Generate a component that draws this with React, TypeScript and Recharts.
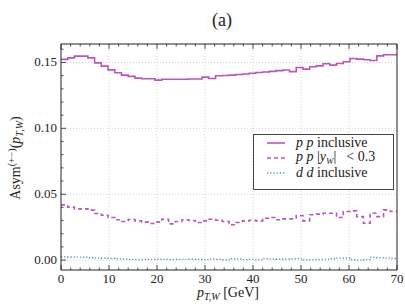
import React from 'react'
import { LineChart, Line, XAxis, YAxis, ReferenceLine, Legend } from 'recharts'

// bin edges in p_T,W [GeV] (50 bins)
const binEdges = [
  0, 1.4, 2.8, 4.2, 5.6, 7, 8.4, 9.8, 11.2, 12.6, 14, 15.4, 16.8, 18.2, 19.6, 21, 22.4,
  23.8, 25.2, 26.6, 28, 29.4, 30.8, 32.2, 33.6, 35, 36.4, 37.8, 39.2, 40.6, 42, 43.4,
  44.8, 46.2, 47.6, 49, 50.4, 51.8, 53.2, 54.6, 56, 57.4, 58.8, 60.2, 61.6, 63, 64.4,
  65.8, 67.2, 68.6, 70,
]

const ppInclusive = [
  0.1523, 0.1535, 0.1548, 0.1548, 0.1535, 0.1497, 0.1472, 0.1444, 0.1422, 0.1404,
  0.1394, 0.1381, 0.1376, 0.1376, 0.1366, 0.1373, 0.1373, 0.1372, 0.1373, 0.1374,
  0.1374, 0.1389, 0.1378, 0.1399, 0.1401, 0.1404, 0.1408, 0.1412, 0.1418, 0.1424,
  0.1428, 0.1432, 0.1438, 0.1443, 0.143, 0.1462, 0.1449, 0.1467, 0.1474, 0.149,
  0.148, 0.1492, 0.1505, 0.153, 0.1525, 0.152, 0.1515, 0.155, 0.1558, 0.1558,
]

const ppCentral = [
  0.0419, 0.0402, 0.0389, 0.0389, 0.0379, 0.0354, 0.0341, 0.0323, 0.0306, 0.0293,
  0.0308, 0.0298, 0.0288, 0.0278, 0.0288, 0.031, 0.0275, 0.0293, 0.0306, 0.0301,
  0.0285, 0.0298, 0.031, 0.0303, 0.0293, 0.0268, 0.0285, 0.0298, 0.0303, 0.0298,
  0.0318, 0.0323, 0.0306, 0.0313, 0.0313, 0.0338, 0.0298, 0.0344, 0.0349, 0.0356,
  0.0356, 0.0323, 0.0369, 0.0374, 0.033, 0.028, 0.0356, 0.033, 0.0381, 0.0369,
]

const ddInclusive = [
  0.0025, 0.0024, 0.0023, 0.0022, 0.0018, 0.0015, 0.0014, 0.0012, 0.001, 0.0008,
  0.0006, 0.0005, 0.0005, 0.0006, 0.0007, 0.0006, 0.0004, 0.0005, 0.0006, 0.0007,
  0.0005, 0.0004, 0.0008, 0.0006, 0.0003, 0.001, 0.0008, 0.0004, 0.0006, 0.0002,
  0.001, 0.0008, 0.0007, 0.0008, 0.001, 0.0011, 0.0002, 0.0004, 0.0005, 0.0006,
  0.001, 0.0015, 0.0014, 0.0003, 0.0, 0.0004, 0.002, 0.0018, 0.0015, 0.0012,
]

const xTicks = [0, 2, 4, 6, 8, 10, 12, 14, 16, 18, 20, 22, 24, 26, 28, 30, 32, 34, 36, 38, 40,
  42, 44, 46, 48, 50, 52, 54, 56, 58, 60, 62, 64, 66, 68, 70]
const xMajor = [0, 10, 20, 30, 40, 50, 60, 70]
const yTicks = [0, 0.01, 0.02, 0.03, 0.04, 0.05, 0.06, 0.07, 0.08, 0.09, 0.1, 0.11, 0.12,
  0.13, 0.14, 0.15, 0.16]
const yMajor = [0, 0.05, 0.1, 0.15]

const MAGENTA = '#bb55bb'
const BLUE = '#5b8fc9'
const AXIS = '#222'
const FONT = "'Liberation Serif', 'Times New Roman', Times, serif"

// stepAfter needs a closing point at the last edge
const data = binEdges.map((x, i) => {
  const k = Math.min(i, ppInclusive.length - 1)
  return { x, pp: ppInclusive[k], ppCut: ppCentral[k], dd: ddInclusive[k] }
})

const isMajorY = (v: number) => Math.round(v * 100) % 5 === 0

const BottomTick = (props: any) => {
  const { x, y, payload } = props
  const major = payload.value % 10 === 0
  return (
    <g>
      <line x1={x} x2={x} y1={y} y2={y - (major ? 5 : 2.5)} stroke={AXIS} strokeWidth={0.8} />
      {major && (
        <text x={x} y={y + 13} textAnchor="middle" style={{ fontFamily: FONT }} fontSize={13} fill="#222">
          {payload.value}
        </text>
      )}
    </g>
  )
}

const TopTick = (props: any) => {
  const { x, y, payload } = props
  const major = payload.value % 10 === 0
  return <line x1={x} x2={x} y1={y} y2={y + (major ? 5 : 2.5)} stroke={AXIS} strokeWidth={0.8} />
}

const LeftTick = (props: any) => {
  const { x, y, payload } = props
  const major = isMajorY(payload.value)
  return (
    <g>
      <line x1={x} x2={x + (major ? 5 : 2.5)} y1={y} y2={y} stroke={AXIS} strokeWidth={0.8} />
      {major && (
        <text x={x - 4} y={y + 4} textAnchor="end" style={{ fontFamily: FONT }} fontSize={13} fill="#222">
          {payload.value.toFixed(2)}
        </text>
      )}
    </g>
  )
}

const RightTick = (props: any) => {
  const { x, y, payload } = props
  const major = isMajorY(payload.value)
  return <line x1={x} x2={x - (major ? 5 : 2.5)} y1={y} y2={y} stroke={AXIS} strokeWidth={0.8} />
}

const legendItems = [
  { key: 'pp', color: MAGENTA, dash: undefined as string | undefined },
  { key: 'ppCut', color: MAGENTA, dash: '4 3' },
  { key: 'dd', color: BLUE, dash: '1.2 2' },
]

const LegendLabel = ({ k }: { k: string }) => {
  if (k === 'pp') return <span><i>p p</i> inclusive</span>
  if (k === 'ppCut')
    return (
      <span>
        <i>p p</i> |<i>y</i>
        <i style={{ fontSize: 9, position: 'relative', top: 3 }}>W</i>|
        <span style={{ marginLeft: 10 }}>&lt; 0.3</span>
      </span>
    )
  return <span><i>d d</i> inclusive</span>
}

const LegendBox = () => (
  <div
    style={{
      width: 141,
      height: 56,
      boxSizing: 'border-box',
      border: '1.3px solid #444',
      background: '#fff',
      padding: '0px 0 0 12px',
      fontFamily: FONT,
      fontSize: 14,
      color: '#222',
    }}
  >
    {legendItems.map(it => (
      <div key={it.key} style={{ height: 15, display: 'flex', alignItems: 'center', lineHeight: '15px', whiteSpace: 'nowrap' }}>
        <svg width={24} height={10} style={{ marginRight: 6, flexShrink: 0 }}>
          <line x1={1} x2={19} y1={5} y2={5} stroke={it.color} strokeWidth={1.6} strokeDasharray={it.dash} />
        </svg>
        <LegendLabel k={it.key} />
      </div>
    ))}
  </div>
)

export default function App() {
  return (
    <div style={{ position: 'absolute', left: 0, top: 0, width: 405, height: 304, background: '#fff' }}>
      <LineChart width={405} height={304} data={data} margin={{ top: 40, right: 0, bottom: 0, left: 0 }}>
        <XAxis
          xAxisId="b"
          dataKey="x"
          type="number"
          domain={[0, 70]}
          ticks={xTicks}
          interval={0}
          orientation="bottom"
          height={34}
          tickSize={0}
          tickMargin={0}
          tick={<BottomTick />}
          axisLine={{ stroke: AXIS, strokeWidth: 1 }}
        />
        <XAxis
          xAxisId="t"
          dataKey="x"
          type="number"
          domain={[0, 70]}
          ticks={xTicks}
          interval={0}
          orientation="top"
          height={4}
          tickSize={0}
          tickMargin={0}
          tick={<TopTick />}
          axisLine={{ stroke: AXIS, strokeWidth: 1 }}
        />
        <YAxis
          yAxisId="l"
          type="number"
          domain={[-0.0075, 0.164]}
          ticks={yTicks}
          interval={0}
          orientation="left"
          width={61}
          tickSize={0}
          tickMargin={0}
          tick={<LeftTick />}
          axisLine={{ stroke: AXIS, strokeWidth: 1 }}
        />
        <YAxis
          yAxisId="r"
          type="number"
          domain={[-0.0075, 0.164]}
          ticks={yTicks}
          interval={0}
          orientation="right"
          width={8}
          tickSize={0}
          tickMargin={0}
          tick={<RightTick />}
          axisLine={{ stroke: AXIS, strokeWidth: 1 }}
        />
        {xMajor.slice(1, -1).map(v => (
          <ReferenceLine key={`gx${v}`} x={v} xAxisId="b" yAxisId="l" stroke="#d0d0d0" strokeDasharray="1 2" />
        ))}
        {yMajor.map(v => (
          <ReferenceLine key={`gy${v}`} y={v} xAxisId="b" yAxisId="l" stroke="#d0d0d0" strokeDasharray="1 2" />
        ))}
        <Line
          xAxisId="b"
          yAxisId="l"
          type="stepAfter"
          dataKey="pp"
          stroke={MAGENTA}
          strokeWidth={1.6}
          dot={false}
          isAnimationActive={false}
        />
        <Line
          xAxisId="b"
          yAxisId="l"
          type="stepAfter"
          dataKey="ppCut"
          stroke={MAGENTA}
          strokeWidth={1.6}
          strokeDasharray="4 3"
          dot={false}
          isAnimationActive={false}
        />
        <Line
          xAxisId="b"
          yAxisId="l"
          type="stepAfter"
          dataKey="dd"
          stroke={BLUE}
          strokeWidth={1.4}
          strokeDasharray="1.2 2"
          dot={false}
          isAnimationActive={false}
        />
        <Legend
          layout="horizontal"
          verticalAlign="middle"
          align="center"
          content={() => <LegendBox />}
          wrapperStyle={{ left: 253, top: 134, width: 141, height: 56 }}
        />
      </LineChart>
      <svg
        width={405}
        height={304}
        style={{ position: 'absolute', left: 0, top: 0, pointerEvents: 'none', fontFamily: FONT }}
        fill="#222"
      >
        <text x={222} y={26} textAnchor="middle" fontSize={18}>(a)</text>
        <text x={228} y={297} textAnchor="middle" fontSize={14}>
          <tspan fontStyle="italic">p</tspan>
          <tspan fontSize={10} dy={3} fontStyle="italic">T,W</tspan>
          <tspan dy={-3}>{'\u00a0[GeV]'}</tspan>
        </text>
        <text x={20} y={158} textAnchor="middle" fontSize={14} transform="rotate(-90 20 158)">
          Asym
          <tspan fontSize={10} dy={-5}>(+−)</tspan>
          <tspan dy={5}>(</tspan>
          <tspan fontStyle="italic">p</tspan>
          <tspan fontSize={10} dy={3} fontStyle="italic">T,W</tspan>
          <tspan dy={-3}>)</tspan>
        </text>
      </svg>
    </div>
  )
}
